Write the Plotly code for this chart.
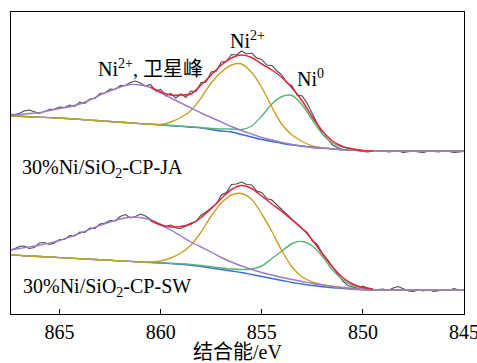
import plotly.graph_objects as go

# Binding energy grids (eV)
ev_fit = [867.5, 867.0, 866.5, 866.0, 865.5, 865.0, 864.5, 864.0, 863.5, 863.0,
          862.5, 862.0, 861.5, 861.0, 860.5, 860.0, 859.5, 859.0, 858.5, 858.0,
          857.5, 857.0, 856.5, 856.0, 855.5, 855.0, 854.5, 854.0, 853.5, 853.0,
          852.5, 852.0, 851.5, 851.0, 850.5, 850.0, 849.5, 849.0, 848.5, 848.0,
          847.5, 847.0, 846.5, 846.0, 845.5, 845.0]
ev_env = [860.5, 860.0, 859.5, 859.0, 858.5, 858.0, 857.5, 857.0, 856.5, 856.0,
          855.5, 855.0, 854.5, 854.0, 853.5, 853.0, 852.5, 852.0, 851.5, 851.0,
          850.5, 850.0, 849.5]
ev_raw = [867.5, 867.25, 867.0, 866.75, 866.5, 866.25, 866.0, 865.75, 865.5, 865.25,
          865.0, 864.75, 864.5, 864.25, 864.0, 863.75, 863.5, 863.25, 863.0, 862.75,
          862.5, 862.25, 862.0, 861.75, 861.5, 861.25, 861.0, 860.75, 860.5, 860.25,
          860.0, 859.75, 859.5, 859.25, 859.0, 858.75, 858.5, 858.25, 858.0, 857.75,
          857.5, 857.25, 857.0, 856.75, 856.5, 856.25, 856.0, 855.75, 855.5, 855.25,
          855.0, 854.75, 854.5, 854.25, 854.0, 853.75, 853.5, 853.25, 853.0, 852.75,
          852.5, 852.25, 852.0, 851.75, 851.5, 851.25, 851.0, 850.75, 850.5, 850.25,
          850.0, 849.75, 849.5, 849.25, 849.0, 848.75, 848.5, 848.25, 848.0, 847.75,
          847.5, 847.25, 847.0, 846.75, 846.5, 846.25, 846.0, 845.75, 845.5, 845.25,
          845.0]

# ---- 30%Ni/SiO2-CP-JA (upper spectrum) ----
ja_raw = [200, 199.5, 200.5, 203, 204, 202, 200.5, 202.5, 204.5, 205,
          207, 206.5, 209, 207.5, 212, 210.5, 215, 215.5, 220.5, 221,
          225, 224.5, 228.5, 228.5, 231.5, 233, 231, 228, 229.5, 223,
          224.5, 218, 220.5, 216, 220, 216.5, 223, 222.5, 231.5, 232,
          242, 243, 252, 252.5, 259.5, 259, 263, 260, 261, 256,
          254.5, 249, 248.5, 243, 239, 231, 228, 219, 218, 210.5,
          200, 190, 180, 175, 169, 166.5, 164.5, 163.5, 163.5, 163.5,
          162.5, 162, 163, 162.5, 163.5, 162, 162.5, 163, 161.5, 162.5,
          163, 162, 161.5, 163, 162.5, 162, 163.5, 162.5, 161.5, 162,
          162.5]
ja_bg = [198, 197.7, 197.3, 196.8, 196.4, 196, 195.3, 194.6, 193.9, 193.2,
         192.5, 191.8, 191.1, 190.4, 189.7, 189, 188.3, 187.6, 186.8, 186,
         184.5, 183, 182, 179.5, 177, 174.5, 172.5, 170.5, 169, 167.7,
         166.5, 165.7, 165, 164.2, 163.7, 163.3, 163, 163, 163, 163,
         163, 163, 163, 163, 163, 163]
ja_sat = [198.5, 199.5, 200.5, 201.3, 203.5, 205.5, 207.3, 210, 214, 219,
          223, 227, 229.5, 229, 226.5, 221, 216, 211, 206, 201,
          196.5, 192, 187.5, 183.5, 180, 176.5, 174, 171.5, 169.5, 168,
          167, 166, 165.2, 164.4, 163.8, 163.4, 163, 163, 163, 163,
          163, 163, 163, 163, 163, 163]
ja_ni2 = [198, 197.7, 197.3, 196.8, 196.4, 196, 195.3, 194.6, 193.9, 193.2,
          192.5, 191.8, 191.1, 190.4, 189.7, 189.5, 192, 196.5, 203.5, 216,
          231, 242, 249, 250, 241.5, 226.5, 207, 189.5, 179, 172.5,
          168, 166.2, 165.2, 164.3, 163.8, 163.4, 163, 163, 163, 163,
          163, 163, 163, 163, 163, 163]
ja_ni0 = [198, 197.7, 197.3, 196.8, 196.4, 196, 195.3, 194.6, 193.9, 193.2,
          192.5, 191.8, 191.1, 190.4, 190, 189.5, 188.7, 188, 187.2, 186.5,
          185.5, 185, 185, 184.5, 188, 198, 210, 217.5, 218.5, 209,
          194, 180, 171, 167, 165, 163.5, 163, 163, 163, 163,
          163, 163, 163, 163, 163, 163]
ja_env = [227, 222, 219, 219, 220, 229, 239, 249, 256, 259,
          256.5, 250, 244, 236.5, 226, 213, 197, 183, 173, 167.5,
          165, 163.5, 163]

# ---- 30%Ni/SiO2-CP-SW (lower spectrum) ----
sw_raw = [64, 65, 67.5, 68, 65.5, 66.5, 71, 71.5, 69.5, 71,
          74.5, 74.5, 78.5, 78, 82, 81.5, 86, 85.5, 90, 91,
          93.5, 93, 97.5, 99.5, 96, 97.5, 100, 98, 94.5, 92,
          90, 87.5, 89, 86, 85.5, 88, 91, 92.5, 99, 102,
          106.5, 110, 119, 121.5, 129.5, 130, 132, 129.5, 129, 123,
          121.5, 115.5, 114, 109, 104, 100, 95, 89.5, 85, 81.5,
          73, 69.5, 60.5, 54.5, 47.5, 39.5, 33, 28.5, 27, 25.5,
          28, 26, 24, 24.5, 25, 23.5, 26, 27.5, 25, 23,
          22.5, 24, 23, 24.5, 22.5, 23.5, 24, 23.5, 25.5, 24,
          23.5]
sw_bg = [59, 58.6, 58, 57.5, 57, 56.4, 55.9, 55.3, 54.8, 54.2,
         53.7, 53.1, 52.6, 52, 51.5, 51, 50.4, 49.7, 48.8, 47.5,
         46, 44.5, 43, 41.5, 39.5, 37.5, 35.5, 33.5, 31.5, 30,
         28.5, 27.3, 26.3, 25.5, 24.8, 24.3, 24, 24, 24, 24,
         24, 24, 24, 24, 24, 24]
sw_sat = [63.5, 65.5, 67, 68.7, 71, 73.5, 77, 80.7, 84.7, 88.7,
          92, 95, 96.7, 96.5, 94, 89, 84, 78, 72, 67,
          62, 56.5, 52, 48, 44.5, 41.5, 39, 36.5, 34.5, 32.5,
          30.5, 29, 27.7, 26.5, 25.5, 24.8, 24.3, 24, 24, 24,
          24, 24, 24, 24, 24, 24]
sw_ni2 = [59, 58.6, 58, 57.5, 57, 56.4, 55.9, 55.3, 54.8, 54.2,
          53.7, 53.1, 52.6, 52, 52, 53, 56, 61, 69, 82,
          98, 111, 119, 120.5, 114.5, 100, 82.5, 63, 47, 37,
          32, 29.5, 27.5, 26.3, 25.2, 24.5, 24, 24, 24, 24,
          24, 24, 24, 24, 24, 24]
sw_ni0 = [59, 58.6, 58, 57.5, 57, 56.4, 55.9, 55.3, 54.8, 54.2,
          53.7, 53.1, 52.6, 52, 51.8, 51.3, 50.7, 50.2, 49.5, 48.5,
          47.2, 46, 45, 44.5, 45, 48, 55.5, 63, 70.5, 72.5,
          68, 57.5, 44, 34.5, 28.5, 26, 24.5, 24, 24, 24,
          24, 24, 24, 24, 24, 24]
sw_env = [93.5, 89, 87, 87.5, 90, 96.5, 105.5, 115.5, 124.5, 128.5,
          125.5, 118, 110, 102.5, 94, 85.5, 74, 60, 47, 36.5,
          30, 26.5, 25]

x_ticks = [865, 860, 855, 850, 845]

C_RAW = "#4a4a4a"
C_ENV = "#e3243b"
C_NI2 = "#c9a025"
C_NI0 = "#5bb47a"
C_SAT = "#9a7cc6"
C_BG = "#3a6dd4"
FONT = "Liberation Serif, Noto Sans CJK SC"

fig = go.Figure()


def line(x, y, color, width, spline=True):
    fig.add_trace(go.Scatter(
        x=x, y=y, mode="lines",
        line=dict(color=color, width=width,
                  shape="spline" if spline else "linear", smoothing=0.8),
        hoverinfo="skip", showlegend=False))


for raw, bg, ni0, ni2, sat, env in [
        (ja_raw, ja_bg, ja_ni0, ja_ni2, ja_sat, ja_env),
        (sw_raw, sw_bg, sw_ni0, sw_ni2, sw_sat, sw_env)]:
    line(ev_raw, raw, C_RAW, 1.1, spline=False)
    line(ev_fit, bg, C_BG, 1.4)
    line(ev_fit, ni0, C_NI0, 1.4)
    line(ev_fit, ni2, C_NI2, 1.4)
    line(ev_fit, sat, C_SAT, 1.4)
    line(ev_env, env, C_ENV, 1.5)

ann = [
    dict(x=860.5, y=246, text="Ni<sup>2+</sup>, 卫星峰", xanchor="center", yanchor="middle"),
    dict(x=855.7, y=274, text="Ni<sup>2+</sup>", xanchor="center", yanchor="middle"),
    dict(x=852.6, y=236, text="Ni<sup>0</sup>", xanchor="center", yanchor="middle"),
    dict(x=866.95, y=146, text="30%Ni/SiO<sub>2</sub>-CP-JA", xanchor="left", yanchor="middle"),
    dict(x=866.9, y=27, text="30%Ni/SiO<sub>2</sub>-CP-SW", xanchor="left", yanchor="middle"),
]
for a in ann:
    fig.add_annotation(xref="x", yref="y", showarrow=False,
                       font=dict(family=FONT, size=20, color="black"), **a)

fig.update_layout(
    width=477, height=363,
    margin=dict(l=11, r=13, t=12, b=49, autoexpand=False),
    paper_bgcolor="white", plot_bgcolor="white",
    font=dict(family=FONT, size=20, color="black"),
    xaxis=dict(range=[867.4, 845], tickvals=x_ticks, ticktext=[str(v) for v in x_ticks],
               ticks="inside", ticklen=5, tickwidth=1.3, tickcolor="black",
               showline=True, mirror=True, linecolor="black", linewidth=1.4,
               showgrid=False, zeroline=False, automargin=False,
               ticklabeloverflow="allow",
               tickfont=dict(family=FONT, size=20, color="black"),
               title=dict(text="结合能/eV", standoff=0,
                          font=dict(family=FONT, size=20, color="black"))),
    yaxis=dict(range=[0, 302], showticklabels=False, ticks="",
               showline=True, mirror=True, linecolor="black", linewidth=1.4,
               showgrid=False, zeroline=False, automargin=False),
)

fig.write_html("out.html", config={"displayModeBar": False},
               post_script="document.body.style.margin='0';document.body.style.padding='0';")
